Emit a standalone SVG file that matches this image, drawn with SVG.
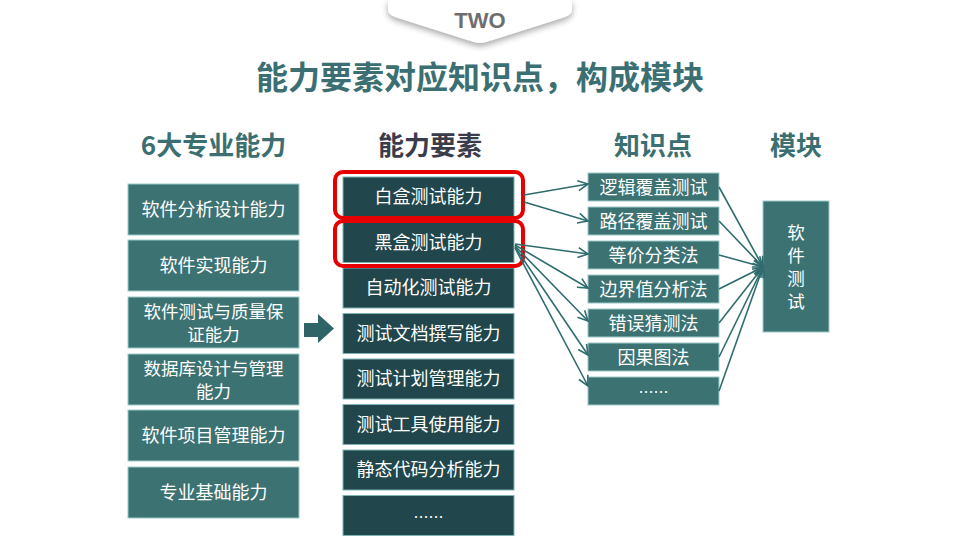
<svg xmlns="http://www.w3.org/2000/svg" width="960" height="540" viewBox="0 0 960 540">
<defs>
<filter id="sh" x="-20%" y="-50%" width="140%" height="220%">
<feDropShadow dx="0" dy="3" stdDeviation="3" flood-color="#000" flood-opacity="0.35"/>
</filter>
<marker id="ah" markerUnits="userSpaceOnUse" markerWidth="14" markerHeight="12" refX="11" refY="6" orient="auto">
<path d="M1,1 L11,6 L1,11" fill="none" stroke="#2f6c6e" stroke-width="1.6"/>
</marker>
<style>
text{font-family:"Noto Sans CJK SC","Noto Sans",sans-serif;}
.t{fill:#fff;font-size:18px;text-anchor:middle;}
.t2{fill:#fff;font-size:17.5px;text-anchor:middle;}
.d{fill:#fff;font-size:15px;text-anchor:middle;}
.h{font-size:26px;font-weight:bold;fill:#3b6f71;text-anchor:middle;}
.lb rect{fill:#3d7273;stroke:#9ccaca;stroke-width:1;}
.mb rect{fill:#21464b;stroke:#7fb3b5;stroke-width:1;}
.kb rect{fill:#3d7273;stroke:#9ccaca;stroke-width:1;}
.red{fill:none;stroke:#e60000;stroke-width:4;}
.c line{stroke:#2f6c6e;stroke-width:1.6;marker-end:url(#ah);}
</style>
</defs>
<rect width="960" height="540" fill="#fff"/>
<g id="tab">
<path d="M388,0 L388,10 Q389,15 395,17 L474,42 Q480,44 486,42 L565,17 Q571,15 572,10 L572,0 Z" fill="#fff" filter="url(#sh)"/>
<text x="480" y="28" font-size="22" font-weight="bold" fill="#6e6e6e" text-anchor="middle" style="font-family:'Liberation Sans',Arial,sans-serif">TWO</text>
</g>
<text x="480" y="89" font-size="32" font-weight="bold" fill="#3b6f71" text-anchor="middle">能力要素对应知识点，构成模块</text>
<text class="h" x="213.5" y="155">6大专业能力</text>
<text class="h" x="430" y="155" style="fill:#3a3c4c">能力要素</text>
<text class="h" x="653" y="155">知识点</text>
<text class="h" x="796" y="155">模块</text>

<g class="lb">
<g id="l1"><rect x="128" y="184" width="171" height="51"/><text class="t" x="213.5" y="216">软件分析设计能力</text></g>
<g id="l2"><rect x="128" y="240" width="171" height="51"/><text class="t" x="213.5" y="272">软件实现能力</text></g>
<g id="l3"><rect x="128" y="297" width="171" height="51"/><text class="t2" x="213.5" y="318">软件测试与质量保</text><text class="t2" x="213.5" y="341">证能力</text></g>
<g id="l4"><rect x="128" y="354" width="171" height="51"/><text class="t2" x="213.5" y="375">数据库设计与管理</text><text class="t2" x="213.5" y="398">能力</text></g>
<g id="l5"><rect x="128" y="410" width="171" height="51"/><text class="t" x="213.5" y="442">软件项目管理能力</text></g>
<g id="l6"><rect x="128" y="467" width="171" height="51"/><text class="t" x="213.5" y="499">专业基础能力</text></g>
</g>

<g id="bigarrow"><path d="M304,323 L318,323 L318,314 L334,328.5 L318,343 L318,337 L304,337 Z" fill="#2f6466"/></g>

<g class="mb">
<g id="m1"><rect x="343" y="177" width="171" height="40"/><text class="t" x="428.5" y="203">白盒测试能力</text></g>
<g id="m2"><rect x="343" y="222.5" width="171" height="40"/><text class="t" x="428.5" y="248.5">黑盒测试能力</text></g>
<g id="m3"><rect x="343" y="268" width="171" height="40"/><text class="t" x="428.5" y="294">自动化测试能力</text></g>
<g id="m4"><rect x="343" y="313.5" width="171" height="40"/><text class="t" x="428.5" y="339.5">测试文档撰写能力</text></g>
<g id="m5"><rect x="343" y="359" width="171" height="40"/><text class="t" x="428.5" y="385">测试计划管理能力</text></g>
<g id="m6"><rect x="343" y="404.5" width="171" height="40"/><text class="t" x="428.5" y="430.5">测试工具使用能力</text></g>
<g id="m7"><rect x="343" y="450" width="171" height="40"/><text class="t" x="428.5" y="476">静态代码分析能力</text></g>
<g id="m8"><rect x="343" y="495.5" width="171" height="40"/><text class="d" x="428.5" y="523">……</text></g>
</g>
<rect class="red" x="335" y="172" width="188" height="46" rx="8"/>
<rect class="red" x="335" y="221" width="188" height="45" rx="8"/>

<g class="kb">
<g id="k1"><rect x="588" y="173" width="131" height="28"/><text class="t" x="653.5" y="193.5">逻辑覆盖测试</text></g>
<g id="k2"><rect x="588" y="207" width="131" height="28"/><text class="t" x="653.5" y="227.5">路径覆盖测试</text></g>
<g id="k3"><rect x="588" y="241" width="131" height="28"/><text class="t" x="653.5" y="261.5">等价分类法</text></g>
<g id="k4"><rect x="588" y="275" width="131" height="28"/><text class="t" x="653.5" y="295.5">边界值分析法</text></g>
<g id="k5"><rect x="588" y="309" width="131" height="28"/><text class="t" x="653.5" y="329.5">错误猜测法</text></g>
<g id="k6"><rect x="588" y="343" width="131" height="28"/><text class="t" x="653.5" y="363.5">因果图法</text></g>
<g id="k7"><rect x="588" y="377" width="131" height="28"/><text class="d" x="653.5" y="398">……</text></g>
</g>

<g id="module" class="kb"><rect x="763" y="201" width="66" height="131"/>
<text class="t2" x="796" y="239">软</text><text class="t2" x="796" y="262">件</text><text class="t2" x="796" y="285">测</text><text class="t2" x="796" y="308">试</text></g>

<g class="c">
<line x1="524" y1="195" x2="588" y2="184"/>
<line x1="524" y1="202" x2="588" y2="221"/>
<line x1="515" y1="244" x2="588" y2="254"/>
<line x1="515" y1="245" x2="588" y2="288"/>
<line x1="515" y1="246" x2="588" y2="321"/>
<line x1="515" y1="247" x2="588" y2="355"/>
<line x1="515" y1="248" x2="588" y2="386"/>
<line x1="719" y1="187" x2="763" y2="267"/>
<line x1="719" y1="221" x2="763" y2="267"/>
<line x1="719" y1="255" x2="763" y2="267"/>
<line x1="719" y1="289" x2="763" y2="267"/>
<line x1="719" y1="323" x2="763" y2="267"/>
<line x1="719" y1="357" x2="763" y2="267"/>
<line x1="719" y1="391" x2="763" y2="267"/>
</g>
</svg>
